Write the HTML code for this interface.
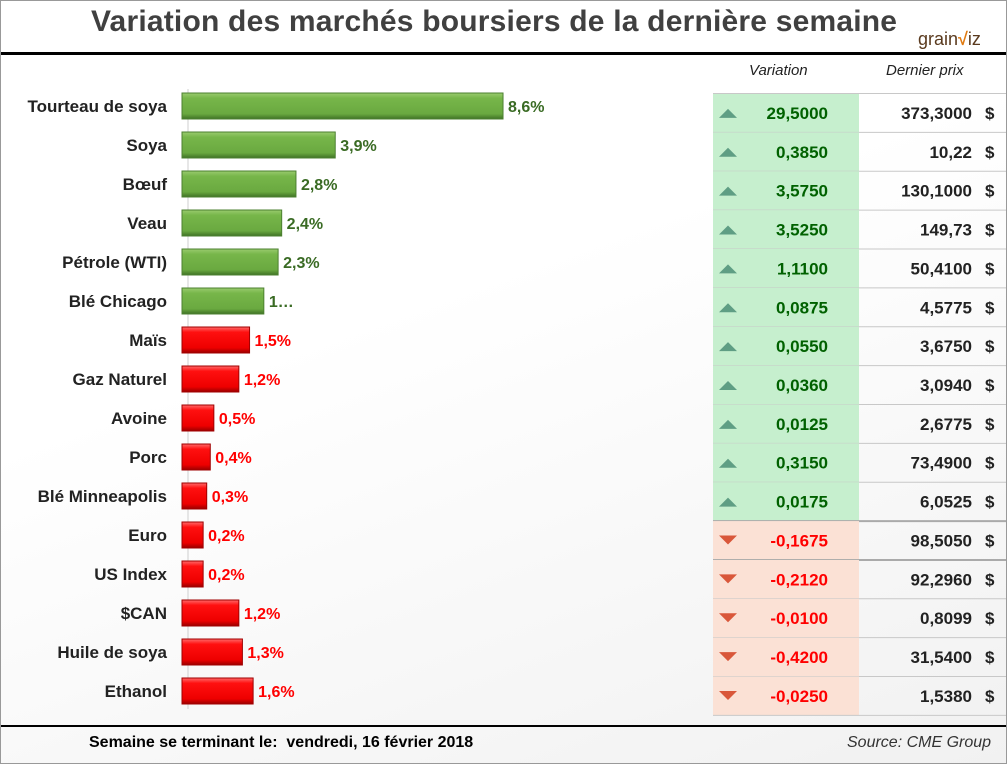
<!DOCTYPE html>
<html><head><meta charset="utf-8"><style>
body{margin:0;background:#fff;}
#wrap{position:relative;width:1005px;height:762px;border:1px solid #999;overflow:hidden;font-family:"Liberation Sans",sans-serif;background:linear-gradient(160deg,#fff 40%,#f1f1f1 100%);}
.t{position:absolute;white-space:nowrap;}
</style></head><body>
<div id="wrap">
<div class="t" style="left:90px;top:4px;font-size:30px;font-weight:bold;color:#404040;letter-spacing:0.2px;">Variation des marchés boursiers de la dernière semaine</div>
<div class="t" style="left:917px;top:28px;font-size:18px;color:#5a3a1e;">grain<span style="color:#e07a10;font-weight:bold;">√</span>iz</div>
<div style="position:absolute;left:0;top:51px;width:1005px;height:3px;background:#000;"></div>
<div style="position:absolute;left:0;top:724px;width:1005px;height:2px;background:#000;"></div>
<div class="t" style="left:88px;top:733px;font-size:16px;font-weight:bold;color:#000;">Semaine se terminant le:&nbsp; vendredi, 16 février 2018</div>
<div class="t" style="left:846px;top:733px;font-size:16px;font-style:italic;color:#333;">Source: CME Group</div>
<div class="t" style="left:748px;top:61px;font-size:15px;font-style:italic;color:#222;">Variation</div>
<div class="t" style="left:885px;top:61px;font-size:15px;font-style:italic;color:#222;">Dernier prix</div>
<svg id="chart" width="1005" height="762" style="position:absolute;left:0;top:0;"></svg>
</div>
<script>
const categories=["Tourteau de soya","Soya","Bœuf","Veau","Pétrole (WTI)","Blé Chicago","Maïs","Gaz Naturel","Avoine","Porc","Blé Minneapolis","Euro","US Index","$CAN","Huile de soya","Ethanol"];
const values=[8.6,3.9,2.8,2.4,2.3,1.9,1.5,1.2,0.5,0.4,0.3,0.2,0.2,1.2,1.3,1.6];
const labels=["8,6%","3,9%","2,8%","2,4%","2,3%","1…","1,5%","1,2%","0,5%","0,4%","0,3%","0,2%","0,2%","1,2%","1,3%","1,6%"];
const isUp=[1,1,1,1,1,1,0,0,0,0,0,0,0,0,0,0];
const variations=["29,5000","0,3850","3,5750","3,5250","1,1100","0,0875","0,0550","0,0360","0,0125","0,3150","0,0175","-0,1675","-0,2120","-0,0100","-0,4200","-0,0250"];
const prices=["373,3000","10,22","130,1000","149,73","50,4100","4,5775","3,6750","3,0940","2,6775","73,4900","6,0525","98,5050","92,2960","0,8099","31,5400","1,5380"];
const tableUp=[1,1,1,1,1,1,1,1,1,1,1,0,0,0,0,0];
const NS="http://www.w3.org/2000/svg";
const svg=document.getElementById('chart');
function el(t,a){const e=document.createElementNS(NS,t);for(const k in a)e.setAttribute(k,a[k]);svg.appendChild(e);return e;}
const x=v=>195+35.7*v, xStart=181;
const y=i=>105+39*i;
const ty=i=>92.5+38.87*i;
const defs=el('defs',{});
defs.innerHTML='<linearGradient id="gG" x1="0" y1="0" x2="0" y2="1"><stop offset="0" stop-color="#9acb6e"/><stop offset="0.2" stop-color="#77b64a"/><stop offset="0.8" stop-color="#6aa940"/><stop offset="1" stop-color="#3f7226"/></linearGradient><linearGradient id="gR" x1="0" y1="0" x2="0" y2="1"><stop offset="0" stop-color="#ff6a6a"/><stop offset="0.2" stop-color="#ff1010"/><stop offset="0.8" stop-color="#ee0000"/><stop offset="1" stop-color="#9a0000"/></linearGradient>';
// table backgrounds
categories.forEach((c,i)=>{
  const r=el('rect',{x:712,y:ty(i),width:146,height:38.87,fill:tableUp[i]?'#c6efce':'#fbe1d5'});
  
  
  const l=el('line',{x1:712,x2:1005,y1:ty(i+1),y2:ty(i+1),stroke:(i==10||i==11)?'#aaa':'#c8c8c8','stroke-width':(i==10||i==11)?2:1});
  
  
});
el('line',{x1:712,x2:1005,y1:ty(0),y2:ty(0),stroke:'#c8c8c8'});
const ax=el('line',{x1:187,x2:187,y1:88,y2:708,stroke:'#cfcfcf','stroke-width':1});


categories.forEach((c,i)=>{
  const cy=y(i);
  const t=el('text',{x:166,y:cy+6,'text-anchor':'end','font-size':17,'font-weight':'bold',fill:'#222'});
  t.textContent=c;
  
  
  const w=x(values[i])-xStart;
  const b=el('rect',{x:xStart,y:cy-13,width:w,height:26,fill:isUp[i]?'url(#gG)':'url(#gR)',stroke:isUp[i]?'#4c8030':'#a00000','stroke-width':1});
  
  
  const v=el('text',{x:xStart+w+5,y:cy+6,'font-size':16,'font-weight':'bold',fill:isUp[i]?'#3a6b24':'#ff0000'});
  v.textContent=labels[i];
  
  
  const tc=ty(i)+19.4;
  const tri=el('path',{d:tableUp[i]?`M718 ${tc+5} L727 ${tc-4} L736 ${tc+5} Z`:`M718 ${tc-5} L736 ${tc-5} L727 ${tc+4} Z`,fill:tableUp[i]?'#5f9e84':'#d9573a'});
  
  
  const vt=el('text',{x:827,y:tc+6,'text-anchor':'end','font-size':17,'font-weight':'bold',fill:tableUp[i]?'#006100':'#ff0000'});
  vt.textContent=variations[i];
  
  
  const pt=el('text',{x:971,y:tc+6,'text-anchor':'end','font-size':17,'font-weight':'bold',fill:'#222'});
  pt.textContent=prices[i];
  
  
  const d=el('text',{x:984,y:tc+6,'font-size':17,'font-weight':'bold',fill:'#222'});
  d.textContent='$';
  
  
});
</script>
</body></html>
